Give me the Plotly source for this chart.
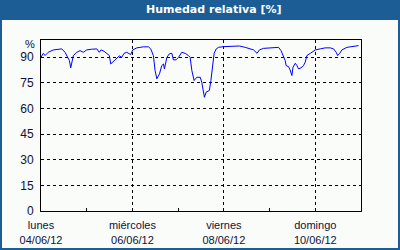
import pandas as pd
import plotly.graph_objects as go

# ---- data ----
start = "2012-06-04 00:00"
hours = [0, 1.2, 2.1, 3.8, 6.5, 9.1, 10.9, 12.6, 13.5, 14.9, 15.6, 16.3, 17.0, 18.8, 20.5, 22.2,
         24.0, 26.6, 29.3, 30.6, 31.5, 33.1, 34.5, 35.9, 36.6, 38.0, 39.8, 41.1, 42.4, 43.6, 45.0,
         46.4, 47.1, 48.2, 50.3, 53.8, 56.4, 57.6, 59.0, 59.9, 60.8, 62.2, 63.4, 64.3, 64.8, 66.1,
         67.4, 68.7, 69.5, 70.9, 72.2, 73.9, 75.7, 77.4, 78.3, 79.2, 80.4, 81.8, 83.6, 84.4, 85.3,
         85.8, 86.7, 88.4, 89.2, 90.2, 90.9, 92.0, 93.2, 95.8, 100.2, 104.2, 107.2, 109.8, 111.6,
         113.4, 114.7, 116.8, 121.2, 124.7, 126.0, 127.3, 128.2, 128.7, 129.9, 130.8, 131.7, 132.3,
         133.5, 134.4, 135.2, 136.5, 137.8, 138.7, 139.6, 141.4, 143.1, 144.0, 146.6, 149.2, 151.9,
         153.6, 155.0, 155.7, 156.8, 158.0, 160.6, 164.1, 166.7]
humidity = [89.9, 92.2, 90.9, 92.8, 94.2, 94.8, 94.8, 92.8, 90.9, 88.0, 83.7, 88.0, 90.9, 92.8, 93.8, 92.8,
            94.2, 94.6, 94.8, 92.8, 94.2, 93.4, 91.9, 90.9, 86.0, 87.6, 89.5, 90.7, 89.9, 92.2, 92.8,
            91.9, 91.5, 94.2, 95.4, 96.0, 96.0, 94.8, 90.9, 82.1, 77.3, 80.2, 85.0, 86.0, 83.1, 89.9,
            91.9, 92.2, 88.4, 88.4, 89.9, 92.8, 92.2, 90.9, 89.9, 82.1, 76.3, 78.2, 78.2, 75.3, 69.5,
            66.5, 69.5, 70.5, 76.3, 87.0, 92.2, 94.8, 95.7, 96.1, 96.1, 96.5, 95.7, 94.8, 94.2,
            92.2, 94.2, 95.1, 95.4, 95.7, 93.8, 90.9, 88.0, 85.0, 84.5, 82.5, 79.2, 84.1,
            86.4, 85.0, 83.1, 83.7, 85.0, 87.0, 90.9, 92.2, 93.4, 94.2, 94.8, 95.4, 95.4,
            94.8, 92.8, 90.9, 92.2, 94.2, 95.7, 96.5, 96.7]
major_days = ["2012-06-04", "2012-06-06", "2012-06-08", "2012-06-10"]
major_names = ["lunes", "miércoles", "viernes", "domingo"]
major_dates = ["04/06/12", "06/06/12", "08/06/12", "10/06/12"]
y_ticks = [0, 15, 30, 45, 60, 75, 90]
title = "Humedad relativa [%]"

times = pd.Timestamp(start) + pd.to_timedelta(hours, unit="h")

W, H = 400, 250
L, R, T, B = 41, 39, 40, 39
PW, PH = W - L - R, H - T - B

def px_x(p):
    return (p - L) / PW

def px_y(p):
    return (H - B - p) / PH

BLUE = "#1D5D96"
BG = "#F9FCF9"
TXT = "#10103A"
FONT = "Liberation Sans, Arial, sans-serif"

fig = go.Figure()
fig.add_trace(go.Scatter(x=times, y=humidity, mode="lines",
                         line=dict(color="#0000FF", width=1), hoverinfo="skip"))

fig.update_layout(
    width=W, height=H, autosize=False,
    margin=dict(l=L, r=R, t=T, b=B, pad=0),
    paper_bgcolor=BLUE, plot_bgcolor="rgba(0,0,0,0)",
    showlegend=False,
    font=dict(family=FONT, size=11, color=TXT),
    xaxis=dict(
        range=[pd.Timestamp("2012-06-04"), pd.Timestamp("2012-06-11")],
        tickmode="array", tickvals=major_days,
        ticktext=[f"{n}<br>{d}" for n, d in zip(major_names, major_dates)],
        ticks="inside", ticklen=3, tickcolor="black",
        showgrid=True, gridcolor="black", gridwidth=1, griddash="3px,3px",
        showline=True, linecolor="black", linewidth=1, mirror=True,
        zeroline=False, ticklabelstandoff=4, automargin=False,
        minor=dict(tickmode="linear", tick0="2012-06-04", dtick=86400000,
                   ticks="inside", ticklen=3, tickcolor="black", showgrid=False),
        tickfont=dict(family=FONT, size=11, color=TXT),
    ),
    yaxis=dict(
        range=[0, 100], tickmode="array", tickvals=y_ticks,
        ticks="", showgrid=True, gridcolor="black", gridwidth=1, griddash="3px,3px",
        showline=True, linecolor="black", linewidth=1, mirror=True,
        zeroline=False, ticklabelstandoff=4, automargin=False,
        tickfont=dict(family=FONT, size=12, color=TXT),
    ),
    shapes=[dict(type="rect", xref="paper", yref="paper",
                 x0=px_x(2), x1=px_x(398), y0=px_y(248), y1=px_y(20),
                 fillcolor=BG, line=dict(width=0), layer="below")],
    annotations=[
        dict(text=f"<b>{title}</b>", xref="paper", yref="paper",
             x=px_x(213.5), y=px_y(10), xanchor="center", yanchor="middle",
             showarrow=False, font=dict(family="DejaVu Sans", size=11, color="white")),
        dict(text="%", xref="paper", yref="paper", x=px_x(36.5), y=px_y(44.5),
             xanchor="right", yanchor="middle", showarrow=False,
             font=dict(family=FONT, size=11, color=TXT)),
    ],
)

fig.write_html("out.html")
